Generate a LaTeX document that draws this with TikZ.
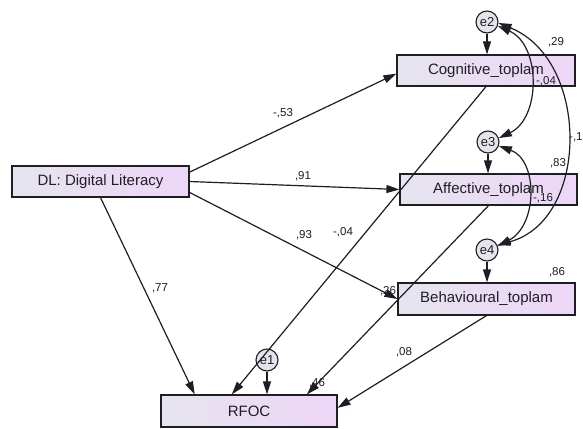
\documentclass[tikz,border=0pt]{standalone}
\usepackage{fontspec}
\setmainfont{Liberation Sans}
\usetikzlibrary{arrows.meta}
\definecolor{boxl}{HTML}{E6E4EE}
\definecolor{boxr}{HTML}{EDD6F7}
\definecolor{errfill}{HTML}{E4E4EA}
\definecolor{ink}{HTML}{1E1E24}
\tikzset{
  varbox/.style={draw=ink, line width=1.2pt, left color=boxl, right color=boxr,
    minimum height=31pt, inner sep=0pt, font=\fontsize{15}{17}\selectfont, text=ink},
  errc/.style={circle, draw=ink, line width=1.1pt, fill=errfill, minimum size=22pt,
    inner sep=0pt, font=\fontsize{13}{15}\selectfont, text=ink},
  path/.style={draw=ink, line width=1.2pt, -{Triangle[length=13pt,width=8pt]}},
  cov/.style={draw=ink, line width=1.2pt, {Triangle[length=13pt,width=8pt]}-{Triangle[length=13pt,width=8pt]}},
  lab/.style={font=\fontsize{11.5}{13}\selectfont, text=ink, inner sep=0pt}
}
\begin{document}
\begin{tikzpicture}[x=1pt,y=-1pt]
\useasboundingbox[fill=white] (0,0) rectangle (583,428);
% boxes
\node[varbox, minimum width=177pt] (dl) at (100.5,181.5) {DL: Digital Literacy};
\node[varbox, minimum width=178pt] (cog) at (486,70.5) {Cognitive\_toplam};
\node[varbox, minimum width=177pt] (aff) at (488.5,189.5) {Affective\_toplam};
\node[varbox, minimum width=177pt, minimum height=32pt] (beh) at (486.5,299) {Behavioural\_toplam};
\node[varbox, minimum width=176pt, minimum height=32pt] (rfoc) at (249,411) {RFOC};
% error terms
\node[errc] (e1) at (267,360) {e1};
\node[errc] (e2) at (487,22) {e2};
\node[errc] (e3) at (488,142) {e3};
\node[errc] (e4) at (487,250) {e4};
% labels
\node[lab] (l1) at (283,113) {-,53};
\node[lab] (l2) at (303,176) {,91};
\node[lab] (l3) at (304,235) {,93};
\node[lab] (l4) at (160,288) {,77};
\node[lab] (l5) at (343,232) {-,04};
\node[lab] (l6) at (388,291) {,26};
\node[lab] (l7) at (317,383) {,46};
\node[lab] (l8) at (404,352) {,08};
\node[lab] (l9) at (556,42) {,29};
\node[lab] (l10) at (546,81) {-,04};
\node[lab] (l11) at (558,163) {,83};
\node[lab] (l12) at (543,198) {-,16};
\node[lab] (l13) at (557,272) {,86};
\node[lab, anchor=west] (l14) at (569,137) {-,1};
% structural paths
\draw[path] (dl.6) -- (cog.182);
\draw[path] (dl.-0.5) -- (aff.west);
\draw[path] (dl.-7) -- (beh.west);
\draw[path] (dl.south) -- (rfoc.163.5);
\draw[path] (cog.south) -- (rfoc.136.7);
\draw[path] (aff.south) -- (rfoc.16.2);
\draw[path] (beh.south) -- (rfoc.2);
% error arrows
\draw[path] (e1.south) -- (e1 |- rfoc.north);
\draw[path] (e2.south) -- (e2 |- cog.north);
\draw[path] (e3.south) -- (e3 |- aff.north);
\draw[path] (e4.south) -- (e4 |- beh.north);
% covariances
\draw[cov] (e2.-20) .. controls (541,45) and (541,118) .. (e3.20);
\draw[cov] (e2.-5) .. controls (590,60) and (590,220) .. (e4.25);
\draw[cov] (e3.-20) .. controls (538,160) and (538,225) .. (e4.20);
\end{tikzpicture}
\end{document}
